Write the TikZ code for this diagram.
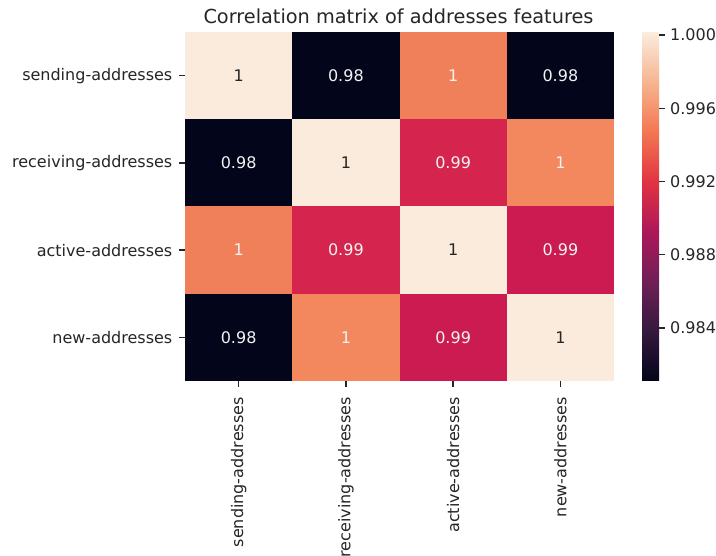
\documentclass[tikz,border=0pt]{standalone}
\usepackage{fontspec}
\setmainfont{DejaVu Sans}
\usetikzlibrary{calc}
\definecolor{labelgray}{HTML}{262626}
\definecolor{cream}{HTML}{FAEBDD}
\definecolor{night}{HTML}{03051A}
\definecolor{salmon}{HTML}{F0805A}
\definecolor{peach}{HTML}{F3875E}
\definecolor{crimson}{HTML}{D5244D}
\definecolor{raspberry}{HTML}{CB1B50}
\definecolor{rk0}{HTML}{03051A}
\definecolor{rk1}{HTML}{35193E}
\definecolor{rk2}{HTML}{701F57}
\definecolor{rk3}{HTML}{AD1759}
\definecolor{rk4}{HTML}{E13342}
\definecolor{rk5}{HTML}{F37651}
\definecolor{rk6}{HTML}{F6B48F}
\definecolor{rk7}{HTML}{FAEBDD}
\tikzset{
	lbl/.style={font=\fontsize{16}{19}\selectfont, text=labelgray, inner sep=0pt},
	numlight/.style={lbl, text=white!94!labelgray},
	numdark/.style={lbl},
	tickmark/.style={line width=1.3pt, draw=labelgray},
	titletext/.style={font=\fontsize{19.3}{23}\selectfont, text=labelgray, inner sep=0pt}
}
\def\heatcell(#1,#2)[#3][#4]#5{\fill[#3] ({185+#1*107.25},{32+#2*87.25}) rectangle +(107.25,87.25); \node[#4] (c#1#2) at ({238.625+#1*107.25},{75.625+#2*87.25}) {#5};}

\begin{document}
\begin{tikzpicture}[x=1pt, y=-1pt]
			%%%%% START %%%%%
			
			\clip (0, 0) rectangle (716, 556);
			\fill[white] (0, 0) rectangle (716, 556);
			
			\node[titletext, anchor=base] (title) at (398.5, 23.5) {Correlation matrix of addresses features};
			
			% row: sending-addresses
			\heatcell(0,0)[cream][numdark]{1}
			\heatcell(1,0)[night][numlight]{0.98}
			\heatcell(2,0)[salmon][numlight]{1}
			\heatcell(3,0)[night][numlight]{0.98}
			
			% row: receiving-addresses
			\heatcell(0,1)[night][numlight]{0.98}
			\heatcell(1,1)[cream][numdark]{1}
			\heatcell(2,1)[crimson][numlight]{0.99}
			\heatcell(3,1)[peach][numlight]{1}
			
			% row: active-addresses
			\heatcell(0,2)[salmon][numlight]{1}
			\heatcell(1,2)[crimson][numlight]{0.99}
			\heatcell(2,2)[cream][numdark]{1}
			\heatcell(3,2)[raspberry][numlight]{0.99}
			
			% row: new-addresses
			\heatcell(0,3)[night][numlight]{0.98}
			\heatcell(1,3)[peach][numlight]{1}
			\heatcell(2,3)[raspberry][numlight]{0.99}
			\heatcell(3,3)[cream][numdark]{1}
			
			% left labels
			\draw[tickmark] (179.4, 75.6) -- (185, 75.6);
			\draw[tickmark] (179.4, 162.9) -- (185, 162.9);
			\draw[tickmark] (179.4, 250.1) -- (185, 250.1);
			\draw[tickmark] (179.4, 337.4) -- (185, 337.4);
			\node[lbl, anchor=east] (rsend) at (172.5, 75.6) {sending-addresses};
			\node[lbl, anchor=east] (rrecv) at (172.5, 162.9) {receiving-addresses};
			\node[lbl, anchor=east] (ractv) at (172.5, 250.1) {active-addresses};
			\node[lbl, anchor=east] (rnew) at (172.5, 337.4) {new-addresses};
			
			% bottom labels
			\draw[tickmark] (238.6, 381) -- (238.6, 386.6);
			\draw[tickmark] (345.9, 381) -- (345.9, 386.6);
			\draw[tickmark] (453.1, 381) -- (453.1, 386.6);
			\draw[tickmark] (560.4, 381) -- (560.4, 386.6);
			\node[lbl, rotate=90, anchor=east] (csend) at (238.6, 397) {sending-addresses};
			\node[lbl, rotate=90, anchor=east] (crecv) at (345.9, 397) {receiving-addresses};
			\node[lbl, rotate=90, anchor=east] (cactv) at (453.1, 397) {active-addresses};
			\node[lbl, rotate=90, anchor=east] (cnew) at (560.4, 397) {new-addresses};
			
			% colorbar
			\shade[bottom color=rk0, top color=rk1] (642, 381) rectangle (659, 331.1);
			\shade[bottom color=rk1, top color=rk2] (642, 331.3) rectangle (659, 281.4);
			\shade[bottom color=rk2, top color=rk3] (642, 281.6) rectangle (659, 231.7);
			\shade[bottom color=rk3, top color=rk4] (642, 231.9) rectangle (659, 182.0);
			\shade[bottom color=rk4, top color=rk5] (642, 182.1) rectangle (659, 132.3);
			\shade[bottom color=rk5, top color=rk6] (642, 132.4) rectangle (659, 82.6);
			\shade[bottom color=rk6, top color=rk7] (642, 82.7) rectangle (659, 33);
			
			\draw[tickmark] (659, 35) -- (664.6, 35);
			\draw[tickmark] (659, 108.25) -- (664.6, 108.25);
			\draw[tickmark] (659, 181.5) -- (664.6, 181.5);
			\draw[tickmark] (659, 254.75) -- (664.6, 254.75);
			\draw[tickmark] (659, 328) -- (664.6, 328);
			\node[lbl, anchor=west] (b1000) at (670, 35) {1.000};
			\node[lbl, anchor=west] (b0996) at (670, 108.25) {0.996};
			\node[lbl, anchor=west] (b0992) at (670, 181.5) {0.992};
			\node[lbl, anchor=west] (b0988) at (670, 254.75) {0.988};
			\node[lbl, anchor=west] (b0984) at (670, 328) {0.984};
			
			%%%%% END %%%%%
\end{tikzpicture}
\end{document}
